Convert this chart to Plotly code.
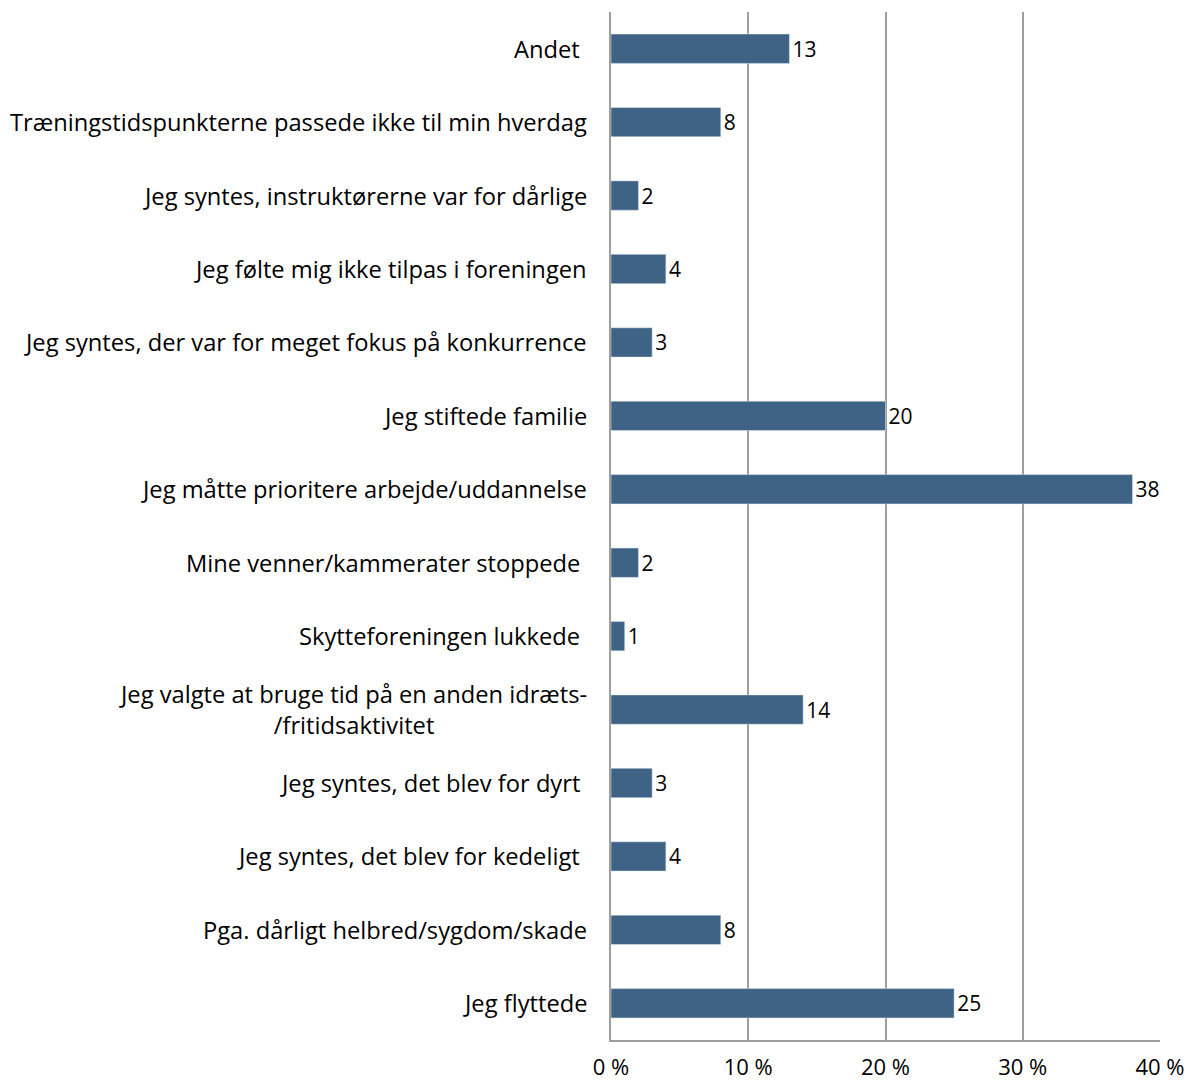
import plotly.graph_objects as go

# categories listed bottom to top
categories = [
    "Jeg flyttede",
    "Pga. dårligt helbred/sygdom/skade",
    "Jeg syntes, det blev for kedeligt ",
    "Jeg syntes, det blev for dyrt ",
    "Jeg valgte at bruge tid på en anden idræts-<br>/fritidsaktivitet",
    "Skytteforeningen lukkede ",
    "Mine venner/kammerater stoppede ",
    "Jeg måtte prioritere arbejde/uddannelse",
    "Jeg stiftede familie",
    "Jeg syntes, der var for meget fokus på konkurrence",
    "Jeg følte mig ikke tilpas i foreningen",
    "Jeg syntes, instruktørerne var for dårlige",
    "Træningstidspunkterne passede ikke til min hverdag",
    "Andet ",
]
values = [25, 8, 4, 3, 14, 1, 2, 38, 20, 3, 4, 2, 8, 13]
x_ticks = [0, 10, 20, 30, 40]
x_tick_labels = ["0 %", "10 %", "20 %", "30 %", "40 %"]

font = "'Open Sans', Lato, sans-serif"

trace = go.Bar(
    y=list(range(len(categories))),
    x=values,
    orientation="h",
    marker=dict(color="#3F6384"),
    width=0.4,
    text=[str(v) for v in values],
    textposition="outside",
    textfont=dict(size=21, color="#000000", family=font),
    cliponaxis=False,
)

# category labels as annotations so the wrapped one is centred like the original
annotations = [
    dict(
        x=0, xref="paper", y=i, yref="y",
        text=cat.rstrip().replace(" <br>", "<br>"),
        xanchor="right", yanchor="middle", align="center",
        xshift=-22 - (7 if cat.endswith(" ") else 0),
        showarrow=False,
        font=dict(size=23.7, family=font, color="#000000"),
    )
    for i, cat in enumerate(categories)
]

layout = go.Layout(
    width=1185,
    height=1073,
    margin=dict(l=603, r=33, t=4, b=41),
    plot_bgcolor="white",
    paper_bgcolor="white",
    showlegend=False,
    font=dict(family=font, color="#000000"),
    annotations=annotations,
    xaxis=dict(
        range=[0, 40],
        tickvals=x_ticks,
        ticktext=x_tick_labels,
        showgrid=True,
        gridcolor="#9E9E9E",
        gridwidth=1.5,
        showline=True,
        linecolor="#9E9E9E",
        linewidth=1.5,
        zeroline=False,
        tickfont=dict(size=22),
        ticks="",
        ticklabelstandoff=7,
        automargin=False,
    ),
    yaxis=dict(
        range=[-0.5, 13.5],
        showgrid=False,
        showline=True,
        linecolor="#9E9E9E",
        linewidth=1.5,
        showticklabels=False,
        ticks="",
        zeroline=False,
        automargin=False,
    ),
)

fig = go.Figure(data=[trace], layout=layout)
fig.write_html("out.html")
